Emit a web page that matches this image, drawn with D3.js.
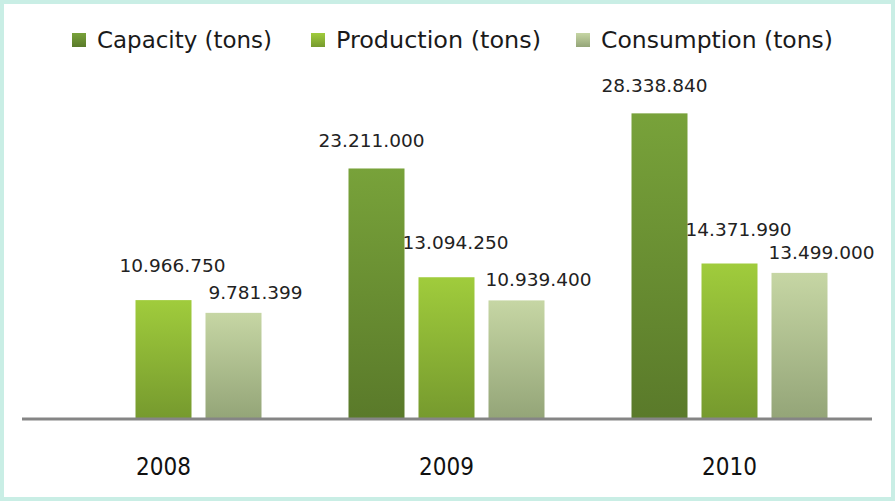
<!DOCTYPE html>
<html>
<head>
<style>
  html, body { margin: 0; padding: 0; background: #fff; }
  svg { display: block; }
</style>
</head>
<body>
<svg></svg>
<script src="https://d3js.org/d3.v7.min.js"></script>
<script>
const years = ["2008", "2009", "2010"];
const seriesNames = ["Capacity (tons)", "Production (tons)", "Consumption (tons)"];
const capacity = [null, 23211000, 28338840];
const production = [10966750, 13094250, 14371990];
const consumption = [9781399, 10939400, 13499000];

const width = 895, height = 501;
const baseY = 418;

// top / bottom colours of each bar gradient
const colors = [
  ["#78a23a", "#5a7a2a"],
  ["#a0cc3c", "#769a2e"],
  ["#c6d6a4", "#94a578"]
];

const svg = d3.select("svg").attr("width", width).attr("height", height);

// light frame
svg.append("rect")
  .attr("x", 2).attr("y", 2)
  .attr("width", width - 4).attr("height", height - 4)
  .attr("fill", "#fff")
  .attr("stroke", "#c9eee5").attr("stroke-width", 4);

const defs = svg.append("defs");
colors.forEach(function(c, i) {
  const g = defs.append("linearGradient")
    .attr("id", "grad" + i)
    .attr("x1", 0).attr("y1", 0).attr("x2", 0).attr("y2", 1);
  g.append("stop").attr("offset", "0%").attr("stop-color", c[0]);
  g.append("stop").attr("offset", "100%").attr("stop-color", c[1]);
});

const x0 = d3.scaleBand().domain(years).range([22, 871]);
const inner = 210;
const x1 = d3.scaleBand().domain(seriesNames).range([0, inner])
  .paddingInner(0.2).paddingOuter(0.1);
const y = d3.scaleLinear().domain([0, 30000000]).range([baseY, baseY - 30 * 10.75]);

const fmt = d3.formatLocale({ decimal: ",", thousands: ".", grouping: [3], currency: ["", ""] }).format(",");

const rows = [];
[capacity, production, consumption].forEach(function(vals, s) {
  vals.forEach(function(v, i) {
    if (v != null) rows.push({ year: years[i], series: seriesNames[s], s: s, value: v });
  });
});

const barX = function(d) {
  return x0(d.year) + (x0.bandwidth() - inner) / 2 + x1(d.series);
};

svg.selectAll("rect.bar")
  .data(rows)
  .enter()
  .append("rect")
  .attr("class", "bar")
  .attr("x", barX)
  .attr("y", function(d) { return y(d.value); })
  .attr("width", x1.bandwidth())
  .attr("height", function(d) { return baseY - y(d.value); })
  .attr("fill", function(d) { return "url(#grad" + d.s + ")"; });

// axis line
svg.append("line")
  .attr("x1", 22).attr("x2", 872)
  .attr("y1", baseY + 1).attr("y2", baseY + 1)
  .attr("stroke", "#858585").attr("stroke-width", 3);

// value labels, nudged per series like the original
const labelDx = [-5, 9, 22];
const labelDy = [-21, -28, -14];
svg.selectAll("text.val")
  .data(rows)
  .enter()
  .append("text")
  .attr("class", "val")
  .attr("x", function(d) { return barX(d) + x1.bandwidth() / 2 + labelDx[d.s]; })
  .attr("y", function(d) { return y(d.value) + labelDy[d.s]; })
  .attr("text-anchor", "middle")
  .style("font-family", "'DejaVu Sans', Verdana, sans-serif")
  .style("font-size", "18.5px")
  .attr("fill", "#222")
  .text(function(d) { return fmt(d.value); });

// year labels
svg.selectAll("text.year")
  .data(years)
  .enter()
  .append("text")
  .attr("class", "year")
  .attr("x", function(d) { return x0(d) + x0.bandwidth() / 2; })
  .attr("y", 475)
  .attr("text-anchor", "middle")
  .style("font-family", "'DejaVu Sans Condensed', 'DejaVu Sans', sans-serif")
  .style("font-stretch", "condensed")
  .style("font-size", "24px")
  .attr("fill", "#111")
  .text(function(d) { return d; });

// legend
const legendX = [72, 311, 576];
const legendW = [175, 205, 232];
const lg = svg.selectAll("g.legend")
  .data(seriesNames)
  .enter()
  .append("g")
  .attr("class", "legend")
  .attr("transform", function(d, i) { return "translate(" + legendX[i] + ",33)"; });

lg.append("rect")
  .attr("width", 14).attr("height", 14)
  .attr("fill", function(d, i) { return "url(#grad" + i + ")"; });

lg.append("text")
  .attr("x", 25)
  .attr("y", 15)
  .attr("textLength", function(d, i) { return legendW[i]; })
  .attr("lengthAdjust", "spacingAndGlyphs")
  .style("font-family", "'DejaVu Sans Condensed', 'DejaVu Sans', sans-serif")
  .style("font-stretch", "condensed")
  .style("font-size", "23px")
  .attr("fill", "#1a1a1a")
  .text(function(d) { return d; });
</script>
</body>
</html>
